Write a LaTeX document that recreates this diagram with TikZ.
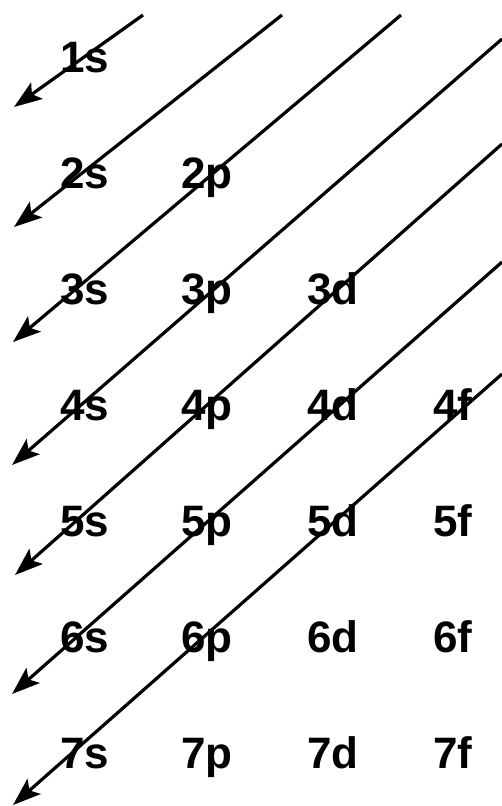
\documentclass[tikz,border=0pt]{standalone}
\usepackage{fontspec}
\setmainfont{Liberation Sans}
\usetikzlibrary{arrows.meta}
\begin{document}
\begin{tikzpicture}[join=round,x=1pt,y=-1pt]
\tikzstyle{orbitale} = [anchor=base west,inner sep=0pt,font=\fontsize{44}{50}\selectfont\bfseries]
\tikzstyle{fleche} = [line width=3.2pt,-{Stealth[length=28pt,width=20pt,inset=6pt]}]
\useasboundingbox (0,0) rectangle (501,806);
%couche 1
\node[orbitale](1s) at (60,72){1s};
%couche 2
\node[orbitale](2s) at (60,188){2s};
\node[orbitale](2p) at (181,188){2p};
%couche 3
\node[orbitale](3s) at (60,304){3s};
\node[orbitale](3p) at (181,304){3p};
\node[orbitale](3d) at (307,304){3d};
%couche 4
\node[orbitale](4s) at (60,420){4s};
\node[orbitale](4p) at (181,420){4p};
\node[orbitale](4d) at (307,420){4d};
\node[orbitale](4f) at (433,420){4f};
%couche 5
\node[orbitale](5s) at (60,536){5s};
\node[orbitale](5p) at (181,536){5p};
\node[orbitale](5d) at (307,536){5d};
\node[orbitale](5f) at (433,536){5f};
%couche 6
\node[orbitale](6s) at (60,652){6s};
\node[orbitale](6p) at (181,652){6p};
\node[orbitale](6d) at (307,652){6d};
\node[orbitale](6f) at (433,652){6f};
%couche 7
\node[orbitale](7s) at (60,768){7s};
\node[orbitale](7p) at (181,768){7p};
\node[orbitale](7d) at (307,768){7d};
\node[orbitale](7f) at (433,768){7f};
%départ et arrivée des flèches
\coordinate (D1) at (143,15);  \coordinate (A1) at (14,107);
\coordinate (D2) at (282,15);  \coordinate (A2) at (14,227);
\coordinate (D3) at (401,15);  \coordinate (A3) at (13,342);
\coordinate (D4) at (502,39);  \coordinate (A4) at (12,465);
\coordinate (D5) at (502,144); \coordinate (A5) at (15,575);
\coordinate (D6) at (502,262); \coordinate (A6) at (12,694);
\coordinate (D7) at (502,374); \coordinate (A7) at (13,805);
%tracer les flèches
\draw[fleche] (D1)--(A1);
\draw[fleche] (D2)--(A2);
\draw[fleche] (D3)--(A3);
\draw[fleche] (D4)--(A4);
\draw[fleche] (D5)--(A5);
\draw[fleche] (D6)--(A6);
\draw[fleche] (D7)--(A7);
\end{tikzpicture}
\end{document}
